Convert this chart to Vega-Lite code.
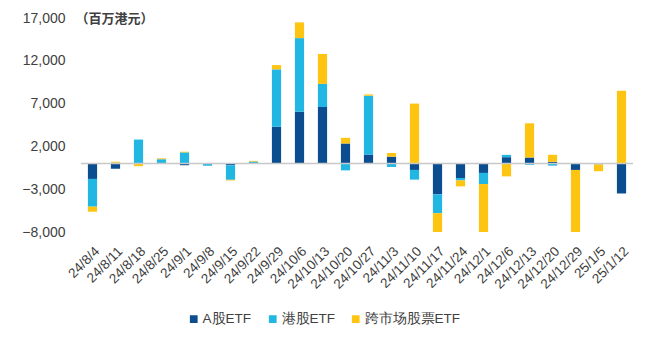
{
  "$schema": "https://vega.github.io/schema/vega-lite/v6.json",
  "width": 552,
  "height": 214,
  "autosize": {"type": "none"},
  "padding": {"left": 81, "top": 18, "right": 27, "bottom": 108},
  "config": {
    "view": {"stroke": null},
    "font": "Liberation Sans",
    "axis": {"labelFont": "Liberation Sans", "labelColor": "#404040", "labelFontSize": 13},
    "legend": {"labelFont": "Liberation Sans"}
  },
  "data": {
    "values": [
      {"date": "24/8/4", "type": "A股ETF", "o": 1, "value": -1800},
      {"date": "24/8/4", "type": "港股ETF", "o": 2, "value": -3240},
      {"date": "24/8/4", "type": "跨市场股票ETF", "o": 3, "value": -590},
      {"date": "24/8/11", "type": "A股ETF", "o": 1, "value": -620},
      {"date": "24/8/11", "type": "港股ETF", "o": 2, "value": 100},
      {"date": "24/8/11", "type": "跨市场股票ETF", "o": 3, "value": 100},
      {"date": "24/8/18", "type": "A股ETF", "o": 1, "value": -60},
      {"date": "24/8/18", "type": "港股ETF", "o": 2, "value": 2800},
      {"date": "24/8/18", "type": "跨市场股票ETF", "o": 3, "value": -250},
      {"date": "24/8/25", "type": "A股ETF", "o": 1, "value": 0},
      {"date": "24/8/25", "type": "港股ETF", "o": 2, "value": 500},
      {"date": "24/8/25", "type": "跨市场股票ETF", "o": 3, "value": 100},
      {"date": "24/9/1", "type": "A股ETF", "o": 1, "value": -200},
      {"date": "24/9/1", "type": "港股ETF", "o": 2, "value": 1300},
      {"date": "24/9/1", "type": "跨市场股票ETF", "o": 3, "value": 80},
      {"date": "24/9/8", "type": "A股ETF", "o": 1, "value": -50},
      {"date": "24/9/8", "type": "港股ETF", "o": 2, "value": -200},
      {"date": "24/9/8", "type": "跨市场股票ETF", "o": 3, "value": 0},
      {"date": "24/9/15", "type": "A股ETF", "o": 1, "value": -200},
      {"date": "24/9/15", "type": "港股ETF", "o": 2, "value": -1700},
      {"date": "24/9/15", "type": "跨市场股票ETF", "o": 3, "value": -80},
      {"date": "24/9/22", "type": "A股ETF", "o": 1, "value": 30},
      {"date": "24/9/22", "type": "港股ETF", "o": 2, "value": 200},
      {"date": "24/9/22", "type": "跨市场股票ETF", "o": 3, "value": 80},
      {"date": "24/9/29", "type": "A股ETF", "o": 1, "value": 4300},
      {"date": "24/9/29", "type": "港股ETF", "o": 2, "value": 6700},
      {"date": "24/9/29", "type": "跨市场股票ETF", "o": 3, "value": 500},
      {"date": "24/10/6", "type": "A股ETF", "o": 1, "value": 6050},
      {"date": "24/10/6", "type": "港股ETF", "o": 2, "value": 8600},
      {"date": "24/10/6", "type": "跨市场股票ETF", "o": 3, "value": 1840},
      {"date": "24/10/13", "type": "A股ETF", "o": 1, "value": 6600},
      {"date": "24/10/13", "type": "港股ETF", "o": 2, "value": 2700},
      {"date": "24/10/13", "type": "跨市场股票ETF", "o": 3, "value": 3500},
      {"date": "24/10/20", "type": "A股ETF", "o": 1, "value": 2340},
      {"date": "24/10/20", "type": "港股ETF", "o": 2, "value": -800},
      {"date": "24/10/20", "type": "跨市场股票ETF", "o": 3, "value": 660},
      {"date": "24/10/27", "type": "A股ETF", "o": 1, "value": 1050},
      {"date": "24/10/27", "type": "港股ETF", "o": 2, "value": 6870},
      {"date": "24/10/27", "type": "跨市场股票ETF", "o": 3, "value": 150},
      {"date": "24/11/3", "type": "A股ETF", "o": 1, "value": 800},
      {"date": "24/11/3", "type": "港股ETF", "o": 2, "value": -400},
      {"date": "24/11/3", "type": "跨市场股票ETF", "o": 3, "value": 430},
      {"date": "24/11/10", "type": "A股ETF", "o": 1, "value": -750},
      {"date": "24/11/10", "type": "港股ETF", "o": 2, "value": -1130},
      {"date": "24/11/10", "type": "跨市场股票ETF", "o": 3, "value": 7000},
      {"date": "24/11/17", "type": "A股ETF", "o": 1, "value": -3600},
      {"date": "24/11/17", "type": "港股ETF", "o": 2, "value": -2200},
      {"date": "24/11/17", "type": "跨市场股票ETF", "o": 3, "value": -2600},
      {"date": "24/11/24", "type": "A股ETF", "o": 1, "value": -1700},
      {"date": "24/11/24", "type": "港股ETF", "o": 2, "value": -270},
      {"date": "24/11/24", "type": "跨市场股票ETF", "o": 3, "value": -700},
      {"date": "24/12/1", "type": "A股ETF", "o": 1, "value": -1100},
      {"date": "24/12/1", "type": "港股ETF", "o": 2, "value": -1300},
      {"date": "24/12/1", "type": "跨市场股票ETF", "o": 3, "value": -5900},
      {"date": "24/12/6", "type": "A股ETF", "o": 1, "value": 740},
      {"date": "24/12/6", "type": "港股ETF", "o": 2, "value": 270},
      {"date": "24/12/6", "type": "跨市场股票ETF", "o": 3, "value": -1500},
      {"date": "24/12/13", "type": "A股ETF", "o": 1, "value": 700},
      {"date": "24/12/13", "type": "港股ETF", "o": 2, "value": -150},
      {"date": "24/12/13", "type": "跨市场股票ETF", "o": 3, "value": 4000},
      {"date": "24/12/20", "type": "A股ETF", "o": 1, "value": 200},
      {"date": "24/12/20", "type": "港股ETF", "o": 2, "value": -250},
      {"date": "24/12/20", "type": "跨市场股票ETF", "o": 3, "value": 820},
      {"date": "24/12/29", "type": "A股ETF", "o": 1, "value": -750},
      {"date": "24/12/29", "type": "港股ETF", "o": 2, "value": 0},
      {"date": "24/12/29", "type": "跨市场股票ETF", "o": 3, "value": -7500},
      {"date": "25/1/5", "type": "A股ETF", "o": 1, "value": 0},
      {"date": "25/1/5", "type": "港股ETF", "o": 2, "value": -100},
      {"date": "25/1/5", "type": "跨市场股票ETF", "o": 3, "value": -800},
      {"date": "25/1/12", "type": "A股ETF", "o": 1, "value": -3500},
      {"date": "25/1/12", "type": "港股ETF", "o": 2, "value": 0},
      {"date": "25/1/12", "type": "跨市场股票ETF", "o": 3, "value": 8500}
    ]
  },
  "layer": [
    {
      "mark": {"type": "bar", "clip": true},
      "encoding": {
        "x": {
          "field": "date", "type": "nominal", "sort": null,
          "scale": {"paddingInner": 0.6, "paddingOuter": 0.3},
          "axis": {"title": null, "labelAngle": -45, "domain": false, "ticks": false, "labelPadding": 12, "labelFontSize": 13.5}
        },
        "y": {
          "field": "value", "type": "quantitative", "stack": "zero",
          "scale": {"domain": [-8000, 17000], "nice": false},
          "axis": {
            "values": [-8000, -3000, 2000, 7000, 12000, 17000],
            "format": ",.0f", "grid": false, "domain": false, "ticks": false, "labelPadding": 16, "labelFontSize": 14,
            "title": "（百万港元）", "titleAngle": 0, "titleAlign": "left", "titleBaseline": "middle",
            "titleX": -6, "titleY": 0, "titleFontSize": 13, "titleFontWeight": "bold", "titleColor": "#404040",
            "titleFont": "Noto Sans CJK SC"
          }
        },
        "color": {
          "field": "type", "type": "nominal",
          "scale": {"domain": ["A股ETF", "港股ETF", "跨市场股票ETF"], "range": ["#0b4d8f", "#22b6e3", "#fec412"]},
          "legend": {
            "title": null, "orient": "none", "direction": "horizontal", "legendX": 106, "legendY": 294,
            "symbolType": "square", "symbolSize": 60, "labelFontSize": 13.5, "labelColor": "#404040",
            "columnPadding": 14, "labelOffset": 2, "symbolStrokeWidth": 0
          }
        },
        "order": {"field": "o", "type": "quantitative"}
      }
    },
    {
      "data": {"values": [{"y": 0}]},
      "mark": {"type": "rule", "color": "#c8c8c8", "strokeWidth": 1.5},
      "encoding": {"y": {"field": "y", "type": "quantitative"}}
    }
  ]
}
